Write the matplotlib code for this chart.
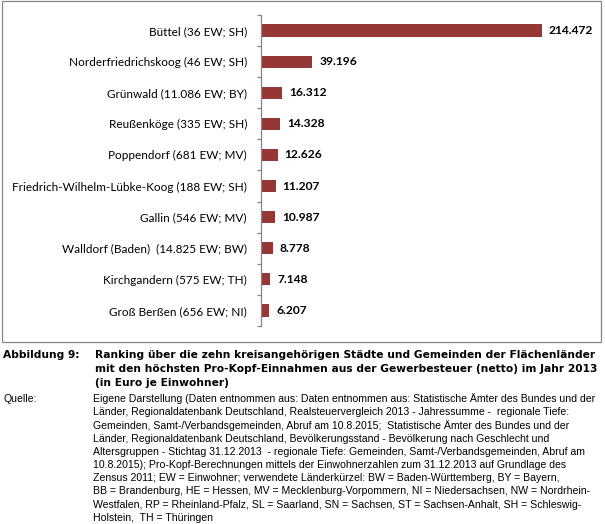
import matplotlib
matplotlib.use("Agg")
import matplotlib.pyplot as plt
import numpy as np
from matplotlib.patches import Rectangle

# ---------------- data ----------------
categories = [
    "Büttel (36 EW; SH)",
    "Norderfriedrichskoog (46 EW; SH)",
    "Grünwald (11.086 EW; BY)",
    "Reußenköge (335 EW; SH)",
    "Poppendorf (681 EW; MV)",
    "Friedrich-Wilhelm-Lübke-Koog (188 EW; SH)",
    "Gallin (546 EW; MV)",
    "Walldorf (Baden)  (14.825 EW; BW)",
    "Kirchgandern (575 EW; TH)",
    "Groß Berßen (656 EW; NI)",
]
values = [214472, 39196, 16312, 14328, 12626, 11207, 10987, 8778, 7148, 6207]

caption_label = "Abbildung 9:"
caption_lines = [
    "Ranking über die zehn kreisangehörigen Städte und Gemeinden der Flächenländer",
    "mit den höchsten Pro-Kopf-Einnahmen aus der Gewerbesteuer (netto) im Jahr 2013",
    "(in Euro je Einwohner)",
]
source_label = "Quelle:"
source_lines = [
    "Eigene Darstellung (Daten entnommen aus: Daten entnommen aus: Statistische Ämter des Bundes und der",
    "Länder, Regionaldatenbank Deutschland, Realsteuervergleich 2013 - Jahressumme -  regionale Tiefe:",
    "Gemeinden, Samt-/Verbandsgemeinden, Abruf am 10.8.2015;  Statistische Ämter des Bundes und der",
    "Länder, Regionaldatenbank Deutschland, Bevölkerungsstand - Bevölkerung nach Geschlecht und",
    "Altersgruppen - Stichtag 31.12.2013  - regionale Tiefe: Gemeinden, Samt-/Verbandsgemeinden, Abruf am",
    "10.8.2015); Pro-Kopf-Berechnungen mittels der Einwohnerzahlen zum 31.12.2013 auf Grundlage des",
    "Zensus 2011; EW = Einwohner; verwendete Länderkürzel: BW = Baden-Württemberg, BY = Bayern,",
    "BB = Brandenburg, HE = Hessen, MV = Mecklenburg-Vorpommern, NI = Niedersachsen, NW = Nordrhein-",
    "Westfalen, RP = Rheinland-Pfalz, SL = Saarland, SN = Sachsen, ST = Sachsen-Anhalt, SH = Schleswig-",
    "Holstein,  TH = Thüringen",
]

# ---------------- layout helpers ----------------
W, H = 605, 524
DPI = 100
fig = plt.figure(figsize=(W / DPI, H / DPI), dpi=DPI)
fig.patch.set_facecolor("white")
PT = 72.0 / DPI  # points per pixel

def fx(px):
    return px / W

def fy(py):
    return 1 - py / H

fig.canvas.draw()
renderer = fig.canvas.get_renderer()

def text_width(s, size, **kw):
    t = fig.text(0, 0, s, fontsize=size, **kw)
    w = t.get_window_extent(renderer).width
    t.remove()
    return w

def fit_size(strings, target_px, **kw):
    size = 10.0
    for _ in range(4):
        wmax = max(text_width(s, size, **kw) for s in strings)
        size = size * target_px / wmax
    # make sure it never exceeds the target
    while max(text_width(s, size, **kw) for s in strings) > target_px:
        size *= 0.99
    return size

CHART_FONT = "Lato"
CAP_FONT = "DejaVu Sans"
BODY_FONT = "Liberation Sans"

cat_size = fit_size([categories[5]], 236, family=CHART_FONT)
val_strings = [f"{v:,}".replace(",", ".") for v in values]
val_size = fit_size([val_strings[0]], 45, family=CHART_FONT, fontweight="bold")

# ---------------- chart ----------------
ax_left, ax_right, ax_top, ax_bot = 261, 590, 15, 326
ax = fig.add_axes([fx(ax_left), fy(ax_bot), (ax_right - ax_left) / W, (ax_bot - ax_top) / H])
n = len(categories)
ypos = np.arange(n)
ax.barh(ypos, values, height=0.39, color="#953735", zorder=2)
ax.set_ylim(n - 0.5, -0.5)
# 214.472 spans ~281 px in the reference
ax.set_xlim(0, max(values) * (ax_right - ax_left) / 281.0)

for s in ["top", "right", "bottom"]:
    ax.spines[s].set_visible(False)
ax.spines["left"].set_color("#868686")
ax.spines["left"].set_linewidth(0.9)
ax.set_xticks([])
ax.set_yticks(ypos)
ax.set_yticklabels(categories, fontsize=cat_size, family=CHART_FONT, color="black")
ax.set_yticks(np.arange(-0.5, n, 1.0), minor=True)
ax.tick_params(axis="y", which="major", length=0, pad=14 * PT)
ax.tick_params(axis="y", which="minor", length=4 * PT, width=0.9, color="#868686", direction="out")
ax.patch.set_alpha(0)

for i, (v, s) in enumerate(zip(values, val_strings)):
    ax.annotate(s, (v, i), xytext=(7 * PT, 0), textcoords="offset points",
                va="center", ha="left", fontsize=val_size, fontweight="bold",
                family=CHART_FONT, color="black")

# chart frame
frame = Rectangle((fx(2), fy(342)), (601 - 2) / W, (342 - 1) / H, transform=fig.transFigure,
                  fill=False, edgecolor="#868686", linewidth=0.9)
fig.add_artist(frame)

# ---------------- caption ----------------
cap_size = fit_size([caption_lines[1]], 505, family=CAP_FONT, fontweight="bold")
cap_y = [355, 369, 383]
fig.text(fx(3), fy(cap_y[0]), caption_label, fontsize=cap_size, fontweight="bold",
         family=CAP_FONT, va="center", ha="left")
for yy, s in zip(cap_y, caption_lines):
    fig.text(fx(95), fy(yy), s, fontsize=cap_size, fontweight="bold",
             family=CAP_FONT, va="center", ha="left")

body_size = fit_size(source_lines, 506, family=BODY_FONT)
src_y0, src_dy = 399, 13.2
fig.text(fx(3), fy(src_y0), source_label, fontsize=body_size, family=BODY_FONT,
         va="center", ha="left")
for k, s in enumerate(source_lines):
    fig.text(fx(93), fy(src_y0 + k * src_dy), s, fontsize=body_size, family=BODY_FONT,
             va="center", ha="left")

fig.savefig("out.png", dpi=DPI)
